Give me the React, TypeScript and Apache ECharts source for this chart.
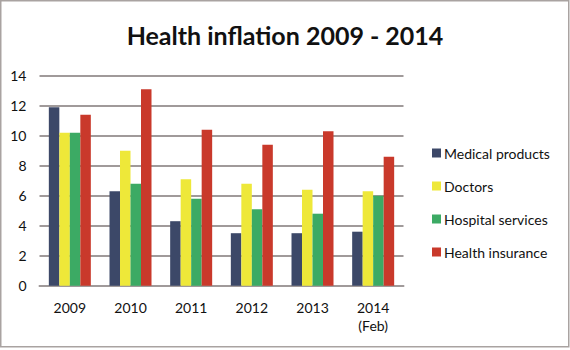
import React, { useEffect, useRef } from "react";
import * as echarts from "echarts";

const categories = ["2009", "2010", "2011", "2012", "2013", "2014\n(Feb)"];
const seriesNames = ["Medical products", "Doctors", "Hospital services", "Health insurance"];
const medicalProducts = [11.9, 6.3, 4.3, 3.5, 3.5, 3.6];
const doctors = [10.2, 9.0, 7.1, 6.8, 6.4, 6.3];
const hospitalServices = [10.2, 6.8, 5.8, 5.1, 4.8, 6.0];
const healthInsurance = [11.4, 13.1, 10.4, 9.4, 10.3, 8.6];
const colors = ["#3c4868", "#eee839", "#3caa64", "#c9392b"];

export default function App() {
  const ref = useRef<HTMLDivElement>(null);
  useEffect(() => {
    document.body.style.margin = "0";
    const chart = echarts.init(ref.current!, undefined, { renderer: "svg" });
    const data = [medicalProducts, doctors, hospitalServices, healthInsurance];
    chart.setOption({
      animation: false,
      backgroundColor: "#ffffff",
      textStyle: { fontFamily: "Lato" },
      title: {
        text: "Health inflation 2009 - 2014",
        left: "center",
        top: 17,
        textStyle: { fontFamily: "Lato", fontWeight: "bold", fontSize: 25, color: "#111" },
      },
      graphic: [
        {
          type: "rect",
          shape: { x: 0.75, y: 0.75, width: 568, height: 346 },
          style: { fill: "none", stroke: "#a9a3a1", lineWidth: 1.5 },
          silent: true,
        },
      ],
      legend: {
        orient: "vertical",
        left: 432,
        top: 146,
        padding: 0,
        itemWidth: 9,
        itemHeight: 9,
        itemGap: 19,
        icon: "rect",
        itemStyle: { borderWidth: 0 },
        textStyle: { fontFamily: "Lato", fontSize: 14, color: "#111", padding: [0, 0, 0, -2] },
        data: seriesNames,
      },
      grid: { left: 39.5, right: 166.5, top: 75.7, bottom: 64.3, containLabel: false },
      xAxis: {
        type: "category",
        data: categories,
        axisLine: { show: true, lineStyle: { color: "#a09a9a", width: 2 } },
        axisTick: { show: false },
        axisLabel: { fontFamily: "Lato", fontSize: 14, color: "#111", margin: 13, lineHeight: 18 },
      },
      yAxis: {
        type: "value",
        min: 0,
        max: 14,
        interval: 2,
        axisLine: { show: false },
        axisTick: { show: false },
        splitLine: { lineStyle: { color: "#a09a9a", width: 2 } },
        axisLabel: { fontFamily: "Lato", fontSize: 14, color: "#111", margin: 13 },
      },
      series: seriesNames.map((name, i) => ({
        name,
        type: "bar",
        data: data[i],
        barWidth: 10.5,
        barGap: "0%",
        itemStyle: { color: colors[i] },
      })),
    });
    return () => chart.dispose();
  }, []);
  return <div ref={ref} style={{ width: 570, height: 350 }} />;
}
